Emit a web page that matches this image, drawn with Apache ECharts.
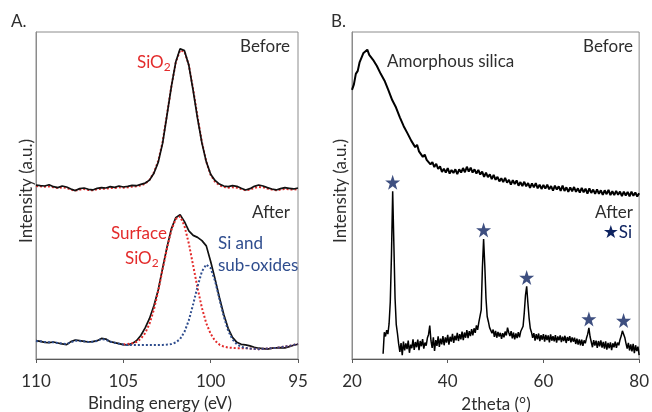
<!DOCTYPE html>
<html>
<head>
<meta charset="utf-8">
<script src="https://cdn.jsdelivr.net/npm/echarts@6/dist/echarts.min.js"></script>
<style>
  html, body { margin: 0; padding: 0; background: #ffffff; }
  #chart { width: 652px; height: 412px; }
</style>
</head>
<body>
<div id="chart"></div>
<script>
// ---------- Panel A: XPS Si 2p, binding energy 110 -> 95 eV, 0.25 eV sampling ----------
const xpsStart = 110;
const xpsStep = -0.25;
const xpsTicks = [95, 100, 105, 110];

// raw spectrum before treatment
const xpsBefore = [53.2, 53.0, 52.9, 53.3, 52.7, 52.4, 52.9, 52.6, 52.0, 51.5,
  52.1, 52.3, 51.9, 51.7, 52.2, 52.4, 52.3, 52.7, 52.5, 52.9,
  52.6, 52.8, 53.1, 53.0, 53.4, 53.8, 54.7, 56.8, 60.2, 66.0,
  74.6, 83.3, 90.8, 94.9, 94.3, 89.8, 82.0, 73.5, 66.0, 60.3,
  56.5, 54.6, 53.5, 52.9, 52.7, 53.0, 52.8, 52.2, 51.7, 52.1,
  52.8, 53.2, 52.9, 52.4, 52.0, 51.7, 52.1, 52.4, 52.2, 52.0, 52.3];
// SiO2 fit before treatment
const xpsBeforeFit = [52.9, 52.8, 52.7, 52.8, 52.5, 52.3, 52.5, 52.3, 51.8, 51.5,
  51.8, 52.0, 51.7, 51.6, 51.9, 52.1, 52.1, 52.3, 52.3, 52.5,
  52.4, 52.5, 52.7, 52.8, 53.1, 53.6, 54.8, 57.0, 60.6, 66.4,
  74.8, 83.4, 90.6, 94.4, 94.0, 89.9, 82.4, 74.0, 66.3, 60.3,
  56.3, 54.2, 53.1, 52.6, 52.4, 52.5, 52.4, 52.0, 51.6, 51.8,
  52.3, 52.6, 52.5, 52.1, 51.8, 51.6, 51.8, 52.0, 51.9, 51.8, 52.0];
// raw spectrum after treatment
const xpsAfter = [5.6, 5.4, 5.1, 5.0, 5.2, 4.9, 4.6, 4.4, 5.3, 5.8,
  5.6, 5.4, 5.2, 5.3, 5.6, 6.3, 6.1, 5.3, 5.0, 4.7,
  4.4, 4.3, 4.7, 5.6, 7.2, 9.5, 12.4, 16.3, 21.2, 27.8,
  34.2, 39.8, 43.2, 44.1, 42.0, 39.2, 37.8, 37.2, 36.2, 34.6,
  29.8, 24.5, 18.8, 13.6, 9.4, 6.6, 5.1, 4.5, 4.3, 4.0,
  3.6, 3.3, 3.2, 3.0, 3.3, 3.4, 3.5, 3.4, 3.8, 4.2, 4.5];
// surface SiO2 component (fitted from 105 eV down)
const xpsAfterSiO2 = [null, null, null, null, null, null, null, null, null, null,
  null, null, null, null, null, null, null, null, null, null,
  4.5, 4.6, 4.8, 5.2, 6.2, 7.9, 10.8, 15.1, 20.8, 27.5,
  33.8, 39.4, 42.8, 43.6, 40.7, 35.3, 28.5, 21.7, 15.6, 10.9,
  7.7, 5.6, 4.4, 3.8, 3.5, 3.4, 3.3, 3.3, 3.3, 3.2,
  3.1, 3.0, 3.1, 3.2, 3.3, 3.4, 3.6, 3.8, 4.0, 4.3, 4.6];
// Si and sub-oxides component
const xpsAfterSi = [5.5, 5.4, 5.2, 5.1, 5.1, 4.9, 4.7, 4.6, 5.1, 5.6,
  5.5, 5.4, 5.2, 5.3, 5.5, 6.1, 5.9, 5.3, 5.0, 4.7,
  4.4, 4.3, 4.3, 4.3, 4.3, 4.3, 4.3, 4.3, 4.3, 4.3,
  4.4, 4.55, 5.05, 6.1, 8.3, 11.85, 16.8, 22.2, 26.8, 28.9,
  27.8, 23.9, 18.4, 13.0, 8.7, 6.0, 4.5, 3.75, 3.4, 3.2,
  3.1, 3.0, 3.1, 3.2, 3.3, 3.4, 3.6, 3.8, 4.0, 4.3, 4.6];

// ---------- Panel B: XRD patterns ----------
const xrdTicks = [20, 40, 60, 80];
const xrdBeforeStart = 20;
const xrdBeforeStep = 0.4;
const xrdBefore = [82.3, 84.0, 87.2, 88.1, 90.8, 91.2, 93.6, 93.4, 94.6, 93.0,
  93.5, 91.5, 91.9, 89.6, 89.4, 87.2, 87.4, 85.1, 84.9, 82.2,
  81.9, 79.2, 79.2, 76.9, 76.6, 73.9, 73.6, 71.2, 71.3, 69.0,
  69.1, 66.7, 66.9, 64.8, 65.5, 63.5, 63.7, 61.8, 62.5, 60.9,
  61.4, 59.5, 60.2, 58.7, 59.7, 58.1, 58.9, 57.2, 58.2, 57.0,
  58.4, 56.7, 57.8, 56.9, 58.0, 56.5, 58.0, 57.0, 58.4, 57.1,
  58.8, 57.3, 58.5, 57.0, 58.0, 56.7, 57.8, 56.4, 57.3, 55.7,
  57.0, 55.6, 56.5, 55.0, 56.3, 54.8, 55.7, 54.3, 55.3, 54.1,
  55.4, 53.9, 54.8, 53.3, 54.7, 53.5, 54.6, 53.0, 54.1, 52.9,
  54.2, 52.8, 53.8, 52.3, 53.7, 52.5, 53.8, 52.2, 53.3, 52.0,
  53.2, 52.1, 53.3, 51.9, 52.9, 51.5, 53.0, 51.8, 52.8, 51.4,
  53.0, 51.4, 52.5, 51.1, 52.5, 51.3, 52.6, 51.1, 52.2, 50.9,
  52.3, 51.0, 52.1, 50.6, 52.2, 50.8, 51.8, 50.5, 51.9, 50.5,
  51.6, 50.2, 51.6, 50.4, 51.7, 50.1, 51.3, 50.1, 51.4, 50.2,
  51.2, 49.8, 51.2, 50.0, 51.1, 49.7, 51.2, 49.9, 50.9, 49.7, 50.7];
const xrdAfterStart = 26.5;
const xrdAfterStep = 0.25;
const xrdAfter = [1.6, 8.2, 6.9, 8.8, 7.6, 10.8, 17.5, 32.0, 51.3, 35.0,
  18.5, 10.5, 7.8, 4.6, 2.2, 4.9, 1.2, 5.3, 2.6, 4.8,
  3.0, 5.6, 1.9, 4.4, 3.3, 6.0, 2.8, 5.2, 3.6, 5.9,
  2.7, 5.5, 3.9, 6.1, 3.2, 5.0, 4.1, 6.4, 7.5, 10.2,
  5.6, 3.4, 6.6, 2.5, 5.8, 4.0, 6.9, 3.7, 6.2, 4.5,
  7.0, 4.2, 6.6, 5.0, 7.4, 4.4, 6.8, 5.3, 7.7, 4.9,
  7.1, 5.7, 8.0, 5.5, 7.6, 6.0, 8.4, 5.8, 8.1, 6.5,
  8.8, 6.4, 8.5, 7.0, 9.1, 7.2, 9.4, 8.0, 10.3, 8.9,
  11.2, 11.8, 15.0, 28.0, 36.7, 28.5, 18.5, 13.0, 11.4, 9.6,
  10.2, 7.9, 9.0, 6.8, 8.6, 6.5, 8.3, 6.9, 8.0, 6.2,
  7.9, 6.6, 8.4, 7.2, 9.6, 8.1, 7.0, 8.5, 6.3, 8.1,
  6.0, 7.8, 6.4, 8.2, 6.6, 8.4, 7.9, 10.0, 14.2, 19.5,
  22.2, 17.2, 12.6, 9.4, 8.2, 6.5, 7.9, 5.6, 7.6, 6.0,
  7.8, 5.5, 7.3, 5.9, 7.6, 5.3, 7.4, 5.8, 7.2, 5.1,
  7.5, 5.6, 7.0, 5.4, 7.3, 5.0, 6.9, 5.7, 7.2, 5.2,
  6.8, 5.5, 7.1, 4.9, 6.7, 5.6, 7.0, 5.1, 6.6, 5.3,
  6.5, 4.6, 6.2, 4.4, 6.0, 4.2, 5.9, 4.0, 5.7, 4.8,
  6.4, 7.6, 9.5, 6.8, 5.2, 3.6, 5.8, 4.1, 5.6, 3.4,
  5.5, 3.9, 5.7, 3.5, 5.2, 3.2, 5.4, 2.9, 4.9, 3.3,
  5.1, 2.7, 4.8, 3.6, 5.3, 3.4, 5.0, 4.2, 5.9, 7.0,
  8.6, 9.0, 6.6, 4.8, 3.2, 4.9, 2.6, 4.5, 2.3, 4.6,
  1.8, 4.2, 2.4, 3.8, 1.2];

// crystalline Si reflections (position, peak intensity)
const siPeakAngles = [28.5, 47.5, 56.5, 69.5, 76.75];
const siPeakHeights = [51.3, 36.7, 22.2, 9.5, 9.0];

// ---------- helpers ----------
function pairs(start, step, values) {
  return values.map((v, i) => [start + i * step, v]);
}

const FONT = 'Lato, "Open Sans", sans-serif';
const FS = 17;
const TXT = '#2e2e2e';
const RED = '#e32b2b';
const BLUE = '#2f4d8e';
const NAVY = '#0e2360';
const STAR = 'path://M50,0 L61.8,35.1 L98.1,35.1 L68.8,56.8 L79.4,91.4 L50,70 L20.6,91.4 L31.2,56.8 L1.9,35.1 L38.2,35.1 Z';

function xAxisCfg(grid, min, max, interval, inverse) {
  return {
    type: 'value', gridIndex: grid, min: min, max: max, interval: interval, inverse: inverse,
    axisLine: { show: true, onZero: false, lineStyle: { color: '#5a5a5a', width: 1 } },
    axisTick: { show: true, length: 4, lineStyle: { color: '#5a5a5a' } },
    axisLabel: { color: TXT, fontSize: FS, fontFamily: FONT, margin: 14 },
    splitLine: { show: false }
  };
}
function yAxisCfg(grid) {
  return {
    type: 'value', gridIndex: grid, min: 0, max: 100,
    axisLine: { show: true, lineStyle: { color: '#8c8c8c', width: 1 } },
    axisTick: { show: false }, axisLabel: { show: false }, splitLine: { show: false }
  };
}
function lineSeries(x, y, data, color, width, dotted, z) {
  return {
    type: 'line', xAxisIndex: x, yAxisIndex: y, data: data, showSymbol: false, symbol: 'none',
    smooth: false, connectNulls: false, z: z,
    lineStyle: { color: color, width: width, type: dotted ? [2, 2] : 'solid' }
  };
}
function label(x, y, text, color, align, extra, rotation) {
  return {
    type: 'text', x: x, y: y, z: 100, rotation: rotation || 0,
    style: Object.assign({ text: text, fill: color, font: FS + 'px ' + FONT, align: align, verticalAlign: 'middle' }, extra || {})
  };
}
const subRich = {
  m: { fontSize: FS, fontFamily: FONT, color: RED },
  s: { fontSize: 12, fontFamily: FONT, color: RED, padding: [9, 0, 0, 0] }
};

const chart = echarts.init(document.getElementById('chart'), null, { renderer: 'canvas' });
chart.setOption({
  animation: false,
  backgroundColor: '#ffffff',
  grid: [
    { left: 36, top: 32, width: 262, height: 327, show: true, borderColor: '#8c8c8c', borderWidth: 1, backgroundColor: 'transparent' },
    { left: 352, top: 32, width: 289, height: 327, show: true, borderColor: '#8c8c8c', borderWidth: 1, backgroundColor: 'transparent' }
  ],
  xAxis: [
    xAxisCfg(0, xpsTicks[0], xpsTicks[xpsTicks.length - 1], 5, true),
    xAxisCfg(1, xrdTicks[0], xrdTicks[xrdTicks.length - 1], 20, false)
  ],
  yAxis: [yAxisCfg(0), yAxisCfg(1)],
  series: [
    // panel A
    lineSeries(0, 0, pairs(xpsStart, xpsStep, xpsBeforeFit), RED, 2, true, 2),
    lineSeries(0, 0, pairs(xpsStart, xpsStep, xpsBefore), '#111111', 1.7, false, 3),
    lineSeries(0, 0, pairs(xpsStart, xpsStep, xpsAfter), '#111111', 1.7, false, 2),
    lineSeries(0, 0, pairs(xpsStart, xpsStep, xpsAfterSiO2), RED, 2, true, 3),
    lineSeries(0, 0, pairs(xpsStart, xpsStep, xpsAfterSi), BLUE, 2, true, 4),
    // panel B
    lineSeries(1, 1, pairs(xrdBeforeStart, xrdBeforeStep, xrdBefore), '#000000', 2, false, 2),
    lineSeries(1, 1, pairs(xrdAfterStart, xrdAfterStep, xrdAfter), '#000000', 1.5, false, 2),
    {
      type: 'scatter', xAxisIndex: 1, yAxisIndex: 1, z: 5,
      data: siPeakAngles.map((a, i) => [a, siPeakHeights[i]]),
      symbol: STAR, symbolSize: 15, symbolOffset: [0, -9],
      itemStyle: { color: NAVY }
    }
  ],
  graphic: [
    label(11, 22, 'A.', TXT, 'left'),
    label(331, 22, 'B.', TXT, 'left'),
    // axis titles
    label(160, 404, 'Binding energy (eV)', TXT, 'center'),
    label(496, 405, '2theta (°)', TXT, 'center'),
    label(27, 191, 'Intensity (a.u.)', TXT, 'center', null, Math.PI / 2),
    label(341, 191, 'Intensity (a.u.)', TXT, 'center', null, Math.PI / 2),
    // annotations
    label(290, 47, 'Before', TXT, 'right'),
    label(137, 63, '{m|SiO}{s|2}', RED, 'left', { rich: subRich }),
    label(290, 213, 'After', TXT, 'right'),
    label(167, 234, 'Surface', RED, 'right'),
    label(125, 259, '{m|SiO}{s|2}', RED, 'left', { rich: subRich }),
    label(218, 244, 'Si and', BLUE, 'left'),
    label(218, 266, 'sub-oxides', BLUE, 'left'),
    label(633, 47, 'Before', TXT, 'right'),
    label(387, 62, 'Amorphous silica', TXT, 'left'),
    label(633, 213, 'After', TXT, 'right'),
    label(632, 233, '{st|★}{t|Si}', NAVY, 'right', {
      rich: {
        st: { fontSize: 18, fontFamily: '"DejaVu Sans"', color: NAVY },
        t: { fontSize: FS, fontFamily: FONT, color: NAVY }
      }
    })
  ]
});
</script>
</body>
</html>
